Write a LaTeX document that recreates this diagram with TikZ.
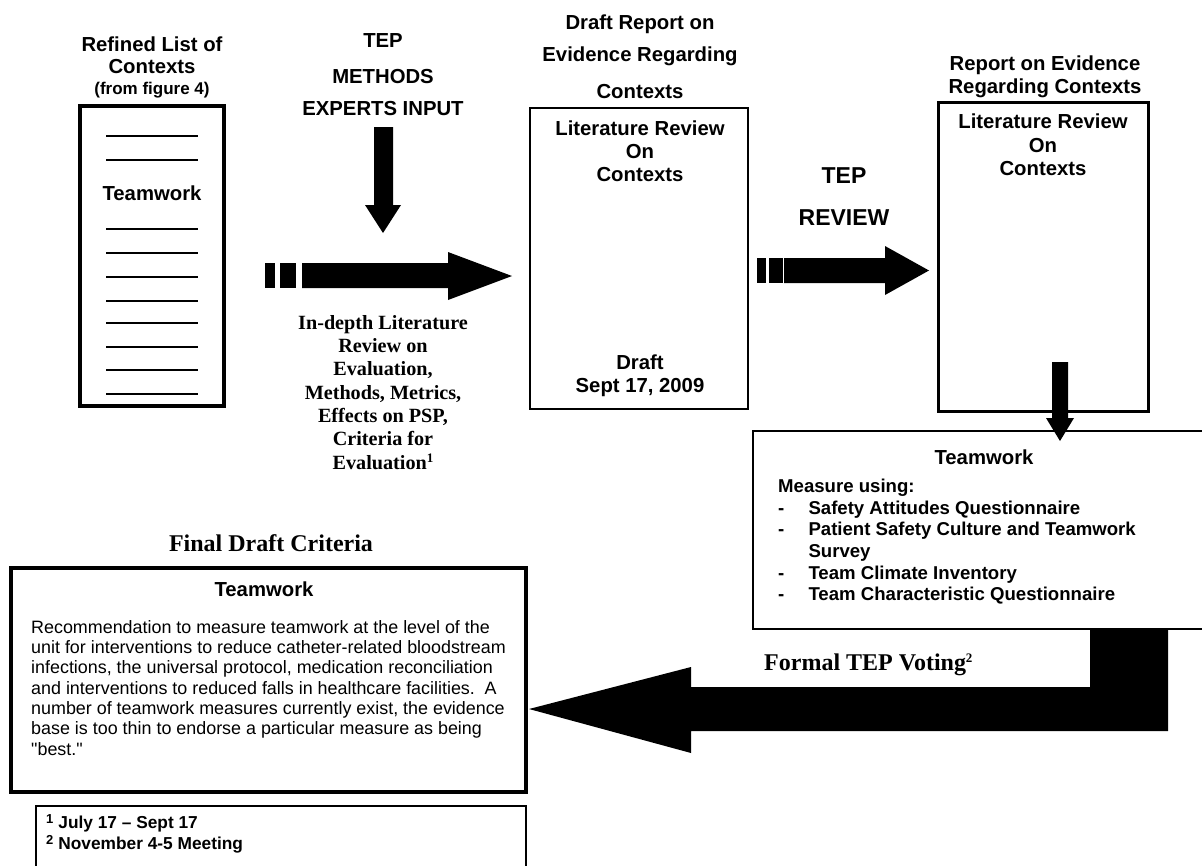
\documentclass[tikz,border=0pt]{standalone}
\usepackage{fontspec}
\setmainfont{Liberation Serif}
\setsansfont{Liberation Sans}
\newfontfamily\rawsans{Liberation Sans}
\newcommand{\smsup}[2]{\raisebox{#1}{\fontsize{13}{13}\selectfont #2}}
\begin{document}
\begin{tikzpicture}[x=1pt,y=-1pt,
  hd/.style={font=\sffamily\bfseries\fontsize{20.3}{23}\selectfont, anchor=base, inner sep=0},
  hdb/.style={font=\sffamily\bfseries\fontsize{23}{26}\selectfont, anchor=base, inner sep=0},
  tm/.style={font=\rmfamily\bfseries\fontsize{24}{28}\selectfont, inner sep=0},
  box/.style={draw, inner sep=0},
  blk/.style={fill=black},
  ruleline/.style={line width=1.6pt}
]
\useasboundingbox (0,0) rectangle (1202,865);
\fill[white] (0,0) rectangle (1202,865);
\clip (0,0) rectangle (1202,865);

% ---------- boxes ----------
\node[box, line width=3.5pt, minimum width=144pt, minimum height=300pt] (b1) at (152,256) {};
\node[box, line width=2.5pt, minimum width=218pt, minimum height=301pt] (b2) at (639,258.5) {};
\node[box, line width=3pt, minimum width=210pt, minimum height=309pt] (b3) at (1043,256.5) {};
\node[box, line width=2.5pt, minimum width=462pt, minimum height=198pt] (b4) at (984,530) {};
\node[box, line width=3.5pt, minimum width=515pt, minimum height=224pt] (b5) at (268.5,680) {};
\node[box, line width=2.5pt, minimum width=490pt, minimum height=94pt] (b6) at (281,853) {};

% ---------- box 1 ----------
\node[hd] (t1a) at (152,51) {Refined List of};
\node[hd] (t1b) at (152,73) {Contexts};
\node[hd, font=\sffamily\bfseries\fontsize{17}{20}\selectfont] (t1c) at (152,94) {(from figure 4)};
\node[hd] (tw1) at (152,200) {Teamwork};
\foreach \yy in {136,160,229,253,277,301,323,347,370,394}
  \draw[ruleline] (106,\yy) -- (198,\yy);

% ---------- methods input ----------
\node[hd] (m1) at (383,47) {TEP};
\node[hd] (m2) at (383,83) {METHODS};
\node[hd] (m3) at (383,115) {EXPERTS INPUT};
\fill[blk] (374,127) -- (393,127) -- (393,205) -- (401,205) -- (383,233) -- (365,205) -- (374,205) -- cycle;

% arrow 1
\fill[blk] (265,263) rectangle (275,288);
\fill[blk] (280,263) rectangle (296,288);
\fill[blk] (302,263) -- (448,263) -- (448,252) -- (512,276) -- (448,300) -- (448,288) -- (302,288) -- cycle;

\node[anchor=north, inner sep=0, align=center, font=\rmfamily\bfseries\fontsize{20.2}{23.3}\selectfont] (lit) at (383,314)
  {\rule{0pt}{15pt}In-depth Literature\\Review on\\Evaluation,\\Methods, Metrics,\\Effects on PSP,\\Criteria for\\Evaluation\smsup{7pt}{\bfseries 1}};

% ---------- box 2 ----------
\node[hd] (t2a) at (640,29) {Draft Report on};
\node[hd] (t2b) at (640,61.5) {Evidence Regarding};
\node[hd] (t2c) at (640,98) {Contexts};
\node[hd] (l2a) at (640,135) {Literature Review};
\node[hd] (l2b) at (640,158.5) {On};
\node[hd] (l2c) at (640,181) {Contexts};
\node[hd] (d2a) at (640,369) {Draft};
\node[hd] (d2b) at (640,392) {Sept 17, 2009};

% ---------- TEP review ----------
\node[hdb] (r1) at (844,183) {TEP};
\node[hdb] (r2) at (844,225) {REVIEW};
\fill[blk] (757,258) rectangle (766,283);
\fill[blk] (769,258) rectangle (783,283);
\fill[blk] (784,258) -- (885,258) -- (885,246) -- (929,270.5) -- (885,295) -- (885,283) -- (784,283) -- cycle;

% ---------- box 3 ----------
\node[hd] (t3a) at (1045,70) {Report on Evidence};
\node[hd] (t3b) at (1045,93) {Regarding Contexts};
\node[hd] (l3a) at (1043,128.5) {Literature Review};
\node[hd] (l3b) at (1043,152) {On};
\node[hd] (l3c) at (1043,175) {Contexts};

% down arrow to box 4
\fill[blk] (1052,362) -- (1068,362) -- (1068,418) -- (1074,418) -- (1060,441) -- (1046,418) -- (1052,418) -- cycle;

% ---------- box 4 ----------
\node[hd] (tw4) at (984,464.5) {Teamwork};
\node[anchor=north west, inner sep=0, align=left, font=\sffamily\bfseries\fontsize{18.6}{21.6}\selectfont] (list4) at (778,478.5)
  {\rule{0pt}{14pt}Measure using:\\
   \makebox[30.3pt][l]{-}Safety Attitudes Questionnaire\\
   \makebox[30.3pt][l]{-}Patient Safety Culture and Teamwork\\
   \hspace*{30.3pt}Survey\\
   \makebox[30.3pt][l]{-}Team Climate Inventory\\
   \makebox[30.3pt][l]{-}Team Characteristic Questionnaire};

% ---------- voting arrow ----------
\fill[blk] (1168,629) -- (1168,731) -- (691,731) -- (691,753) -- (529,709) -- (691,667) -- (691,687) -- (1090,687) -- (1090,629) -- cycle;
\node[tm, anchor=base west] (vote) at (764,670.5) {Formal TEP Voting\smsup{8pt}{\rmfamily\bfseries 2}};

% ---------- box 5 ----------
\node[tm, anchor=base] (fdc) at (271,551.5) {Final Draft Criteria};
\node[hd] (tw5) at (264,596.5) {Teamwork};
\node[anchor=north west, inner sep=0, align=left, font=\sffamily\fontsize{17.9}{20.3}\selectfont] (para) at (31,619)
  {\rule{0pt}{14pt}Recommendation to measure teamwork at the level of the\\
   unit for interventions to reduce catheter-related bloodstream\\
   infections, the universal protocol, medication reconciliation\\
   and interventions to reduced falls in healthcare facilities.\hspace{0.55em}A\\
   number of teamwork measures currently exist, the evidence\\
   base is too thin to endorse a particular measure as being\\
   {\rawsans"}best.{\rawsans"}};

% ---------- box 6 ----------
\node[anchor=north west, inner sep=0, align=left, font=\sffamily\bfseries\fontsize{17.3}{21}\selectfont] (fn) at (46,814.5)
  {\rule{0pt}{14pt}\smsup{5pt}{\sffamily\bfseries 1}\hspace{5pt}July 17 -- Sept 17\\
   \smsup{5pt}{\sffamily\bfseries 2}\hspace{5pt}November 4-5 Meeting};
\end{tikzpicture}
\end{document}
